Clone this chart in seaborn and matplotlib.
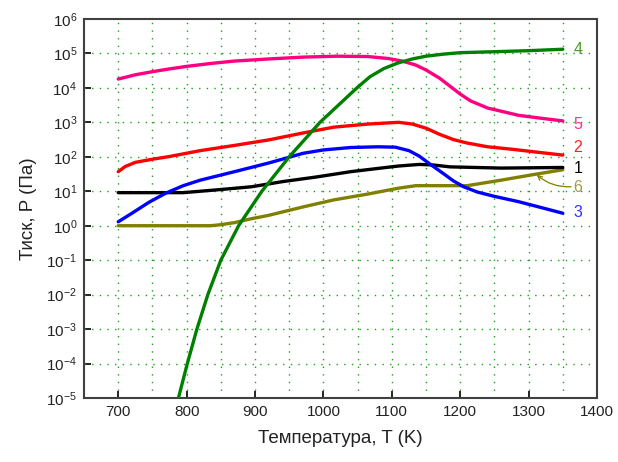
import numpy as np
import pandas as pd
import matplotlib
matplotlib.use("Agg")
import matplotlib.pyplot as plt
import seaborn as sns
from matplotlib.ticker import LogLocator, FixedLocator, NullLocator

# ---------------- data ----------------
t5 = [700, 725, 750, 775, 800, 835, 870, 920, 970, 1020, 1065, 1095, 1115, 1135, 1150,
      1170, 1185, 1200, 1215, 1240, 1260, 1285, 1320, 1350]
p5 = [1.8e4, 2.4e4, 2.95e4, 3.55e4, 4.2e4, 5.1e4, 6.0e4, 6.9e4, 7.8e4, 8.3e4, 8.1e4, 7.1e4,
      6.0e4, 4.6e4, 3.3e4, 1.9e4, 1.12e4, 6.6e3, 4.2e3, 2.6e3, 2.1e3, 1.6e3, 1.3e3, 1.1e3]

t2 = [700, 710, 725, 750, 775, 820, 870, 920, 970, 1015, 1065, 1110, 1130, 1150, 1170,
      1190, 1210, 1240, 1275, 1310, 1350]
p2 = [37, 52, 69, 85, 102, 151, 214, 309, 490, 724, 891, 1000, 891, 676, 447,
      316, 251, 195, 166, 138, 112]

t3 = [700, 720, 745, 770, 795, 820, 870, 920, 945, 970, 1000, 1040, 1080, 1105, 1125,
      1140, 1155, 1175, 1190, 1205, 1225, 1250, 1285, 1320, 1350]
p3 = [1.3, 2.3, 4.8, 8.9, 14.5, 21, 37, 66, 91, 126, 158, 186, 195, 190, 151,
      105, 63, 33, 20, 13.5, 9.5, 7.1, 5.0, 3.3, 2.3]

t1 = [700, 795, 845, 895, 940, 990, 1040, 1080, 1110, 1140, 1160, 1185, 1260, 1350]
p1 = [9.1, 9.1, 11, 13.5, 19, 26, 37, 46, 54, 60, 58, 51, 47, 49]

t6 = [700, 835, 850, 870, 895, 920, 970, 1015, 1065, 1110, 1135, 1210, 1260, 1305, 1350]
p6 = [1.0, 1.0, 1.07, 1.23, 1.6, 2.0, 3.5, 5.6, 8.3, 12.3, 14.5, 14.5, 21, 30, 42]

t4 = [784, 788, 801, 815, 831, 850, 876, 910, 950, 995, 1049, 1068, 1088, 1108, 1130,
      1150, 1175, 1200, 1250, 1300, 1350]
p4 = [6e-6, 1e-5, 1e-4, 1e-3, 1e-2, 0.1, 1, 10, 100, 1000, 1e4, 2.1e4, 3.6e4, 5.2e4, 6.9e4,
      8.3e4, 9.5e4, 1.05e5, 1.12e5, 1.2e5, 1.32e5]

series_names = ["1", "2", "3", "4", "5", "6"]
series_t = {"1": t1, "2": t2, "3": t3, "4": t4, "5": t5, "6": t6}
series_p = {"1": p1, "2": p2, "3": p3, "4": p4, "5": p5, "6": p6}
line_colors = {"1": "#000000", "2": "#ff0000", "3": "#0000ff",
               "4": "#008000", "5": "#ff0080", "6": "#808000"}
label_colors = {"1": "#000000", "2": "#ff2020", "3": "#3030ff",
                "4": "#4a9a2a", "5": "#ff3090", "6": "#a09a50"}
label_pos = {"4": 1.26e5, "5": 8.5e2, "2": 1.8e2, "1": 4.7e1, "6": 1.25e1, "3": 2.35}

x_ticks = [700, 800, 900, 1000, 1100, 1200, 1300, 1400]
x_grid = [700, 750, 800, 850, 900, 950, 1000, 1050, 1100, 1150, 1200, 1250, 1300, 1350]

# ---------------- styling ----------------
sns.set_theme(style="white")
plt.rcParams["font.family"] = ["Liberation Sans", "DejaVu Sans"]
plt.rcParams["mathtext.fontset"] = "custom"
plt.rcParams["mathtext.rm"] = "Liberation Sans"
plt.rcParams["mathtext.it"] = "Liberation Sans"

fig = plt.figure(figsize=(6.18, 4.62), dpi=100)
ax = fig.add_axes([0.136, 0.1385, 0.830, 0.8205])

frames = []
for n in series_names:
    frames.append(pd.DataFrame({"T": series_t[n], "P": series_p[n], "s": n}))
df = pd.concat(frames, ignore_index=True)

ax.set_yscale("log")
for n in ["6", "1", "3", "2", "5", "4"]:
    sub = df[df["s"] == n]
    sns.lineplot(data=sub, x="T", y="P", ax=ax, color=line_colors[n],
                 lw=2.4, sort=False, estimator=None, legend=False, zorder=3)

ax.set_xlim(650, 1400)
ax.set_ylim(1e-5, 1e6)

# grid
for xv in x_grid:
    ax.axvline(xv, color="#1aa01a", lw=1.0, ls=(0, (1, 4.5)), zorder=1)
for e in range(-4, 6):
    ax.axhline(10.0 ** e, color="#1aa01a", lw=1.0, ls=(0, (1, 4.5)), zorder=1)

ax.xaxis.set_major_locator(FixedLocator(x_ticks))
ax.xaxis.set_minor_locator(NullLocator())
ax.yaxis.set_major_locator(LogLocator(base=10, numticks=20))
ax.yaxis.set_minor_locator(NullLocator())
ax.tick_params(axis="both", which="major", direction="in", length=5, width=1.2,
               color="black", labelsize=11, labelcolor="#222222",
               bottom=True, left=True, top=False, right=False, pad=5)

for sp in ax.spines.values():
    sp.set_color("#404040")
    sp.set_linewidth(1.5)

ax.set_xlabel("Температура, T (K)", fontsize=13.5, color="#222222", labelpad=8)
ax.set_ylabel("Тиск, P (Па)", fontsize=13.5, color="#222222", labelpad=7)

# curve labels
for n in series_names:
    ax.text(1366, label_pos[n], n, color=label_colors[n], fontsize=11.5,
            ha="left", va="center", zorder=4)

ax.annotate("", xy=(1312, 30), xytext=(1362, 13.5),
            arrowprops=dict(arrowstyle="->", color="#808000", lw=0.9,
                            connectionstyle="arc3,rad=-0.2",
                            shrinkA=0, shrinkB=0, mutation_scale=8), zorder=4)

fig.savefig("out.png", dpi=100)
